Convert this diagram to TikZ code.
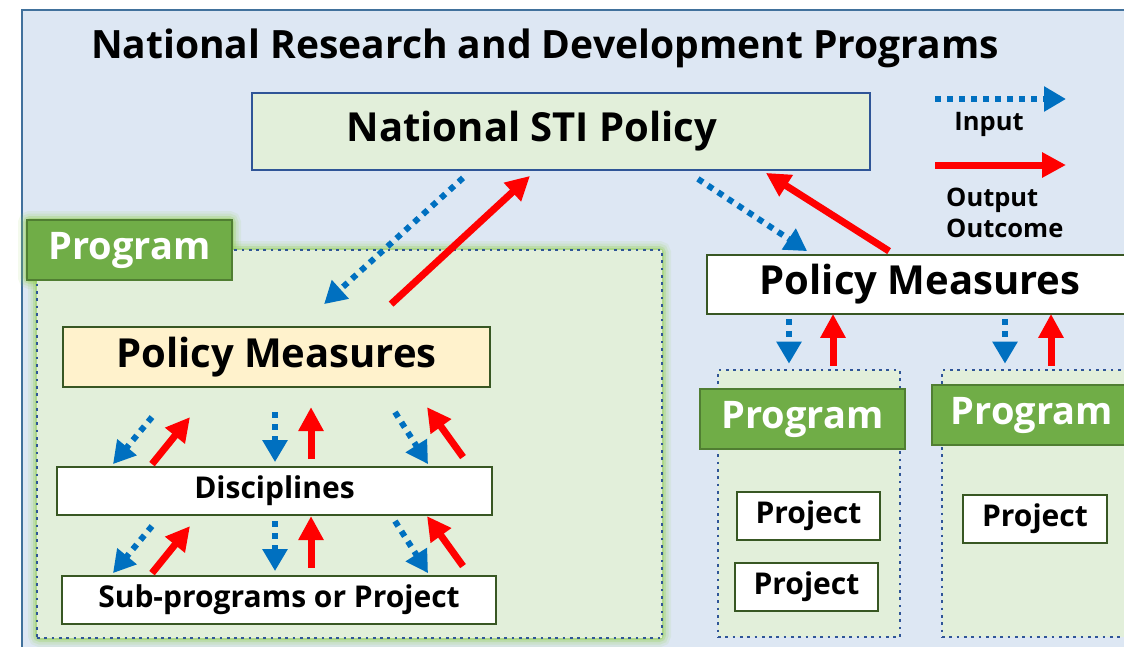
\documentclass[tikz,border=0pt]{standalone}
\usepackage{fontspec}
\setmainfont{Open Sans}
\usetikzlibrary{arrows.meta,calc}

\definecolor{bgblue}{HTML}{DDE7F3}
\definecolor{frameblue}{HTML}{41719C}
\definecolor{paleGreen}{HTML}{E2EFDA}
\definecolor{progGreen}{HTML}{70AD47}
\definecolor{progEdge}{HTML}{507E32}
\definecolor{boxEdge}{HTML}{385723}
\definecolor{stiEdge}{HTML}{2F5597}
\definecolor{dotBlue}{HTML}{2F5597}
\definecolor{inBlue}{HTML}{0070C0}
\definecolor{outRed}{HTML}{FF0000}
\definecolor{paleYellow}{HTML}{FFF2CC}
\definecolor{glowGreen}{HTML}{92D050}

\begin{document}
\begin{tikzpicture}[x=1pt, y=-1pt,
  every node/.style={font=\bfseries, inner sep=0pt},
  big/.style={font=\bfseries\fontsize{40}{42}\selectfont},
  mid/.style={font=\bfseries\fontsize{30}{32}\selectfont},
  box/.style={draw=boxEdge, line width=1.8pt, fill=white},
  proglabel/.style={draw=progEdge, line width=1.5pt, fill=progGreen, text=white,
    minimum width=205pt, minimum height=60pt, font=\bfseries\fontsize{38}{40}\selectfont},
  progarea/.style={draw=dotBlue, line width=2.7pt, dash pattern=on 2.7pt off 4.6pt, fill=paleGreen},
  inarrow/.style={draw=inBlue, line width=6pt, dash pattern=on 6pt off 6pt,
    -{Triangle[length=22pt,width=24pt]}},
  outarrow/.style={draw=outRed, line width=7pt, -{Triangle[length=24pt,width=24pt]}},
]
  \useasboundingbox (0,0) rectangle (1124,646);
  \clip (0,0) rectangle (1124,646);

  % backdrop
  \draw[fill=bgblue, draw=frameblue, line width=1.5pt] (22,10) rectangle (1140,660);
  \node[font=\bfseries\fontsize{39}{42}\selectfont] (title) at (545,48)
    {National Research and Development Programs};

  % soft glow round the big program
  \foreach \w/\o in {18/0.10, 13/0.15, 8/0.25, 4/0.35} {
    \draw[glowGreen, line width=\w pt, opacity=\o, rounded corners=3pt] (37,250) rectangle (662,638);
    \draw[glowGreen, line width=\w pt, opacity=\o, rounded corners=3pt] (27,220) rectangle (232,280);
  }

  % top level
  \node[box, draw=stiEdge, fill=paleGreen, minimum width=618pt, minimum height=77pt, big]
    (sti) at (561,131.5) {National STI Policy\hspace*{58pt}};

  % left program
  \node[progarea, minimum width=625pt, minimum height=388pt] (areaL) at (349.5,444) {};
  \node[proglabel] (progL) at (129.5,250) {Program};
  \node[box, fill=paleYellow, minimum width=427pt, minimum height=60pt, big]
    (pmL) at (276.5,357) {Policy Measures};
  \node[box, minimum width=435pt, minimum height=48pt, mid] (disc) at (274.5,491) {Disciplines};
  \node[box, minimum width=434pt, minimum height=48pt, mid] (sub) at (279,600)
    {Sub-programs or Project};

  % right side
  \node[box, minimum width=426pt, minimum height=59pt, big] (pmR) at (920,284.5) {Policy Measures};
  \node[progarea, minimum width=182pt, minimum height=267pt] (areaA) at (809,503.5) {};
  \node[proglabel] (progA) at (802.5,419) {Program};
  \node[box, minimum width=143pt, minimum height=48pt, mid] (projA1) at (808.5,516) {Project};
  \node[box, minimum width=143pt, minimum height=48pt, mid] (projA2) at (806.5,587) {Project};
  \node[progarea, minimum width=193pt, minimum height=267pt] (areaB) at (1038.5,503.5) {};
  \node[proglabel, minimum width=200pt] (progB) at (1032,415) {Program};
  \node[box, minimum width=144pt, minimum height=48pt, mid] (projB) at (1035,519) {Project};

  % legend
  \coordinate (inA) at (935,99);
  \coordinate (inB) at (1066,99);
  \coordinate (outA) at (935,165);
  \coordinate (outB) at (1066,165);
  \draw[inarrow] (inA) -- (inB);
  \draw[outarrow] (outA) -- (outB);
  \node[font=\bfseries\fontsize{25.5}{31}\selectfont] (inLbl) at (989,124) {Input};
  \node[font=\bfseries\fontsize{25.5}{31}\selectfont, align=left, anchor=west]
    (outLbl) at (946,213) {Output\\Outcome};

  % STI policy <-> policy measures
  \draw[inarrow] ($(sti.south)+(-98,7)$) -- ($(pmL.north west)+(262,-22)$);
  \draw[outarrow] ($(pmL.north west)+(329,-22)$) -- ($(sti.south)+(-31,5)$);
  \draw[inarrow] ($(sti.south east)+(-173,8)$) -- ($(pmR.north west)+(101,-3)$);
  \draw[outarrow] ($(pmR.north west)+(183,-3)$) -- ($(sti.south east)+(-105,2)$);

  % policy measures <-> programs
  \foreach \ix/\ox/\area in {789/833/areaA, 1005/1051/areaB} {
    \draw[inarrow] ($(\ix,0 |- pmR.south)+(0,4)$) -- ($(\ix,0 |- \area.north)+(0,-5)$);
    \draw[outarrow] ($(\ox,0 |- \area.north)+(0,-3)$) -- ($(\ox,0 |- pmR.south)+(0,-1)$);
  }

  % measures -> disciplines -> sub-programs
  \foreach \low in {disc, sub}
    \foreach \sx/\sy/\tx/\ty/\ux/\uy/\vx/\vy in
      {152/-49/113/-2/152/-2/190/-49, 275/-54/275/-4/311/-7/311/-59,
       395/-54/428/-2/463/-9/427/-59} {
      \draw[inarrow] ($(\sx,0 |- \low.north)+(0,\sy)$) -- ($(\tx,0 |- \low.north)+(0,\ty)$);
      \draw[outarrow] ($(\ux,0 |- \low.north)+(0,\uy)$) -- ($(\vx,0 |- \low.north)+(0,\vy)$);
    }
\end{tikzpicture}
\end{document}
